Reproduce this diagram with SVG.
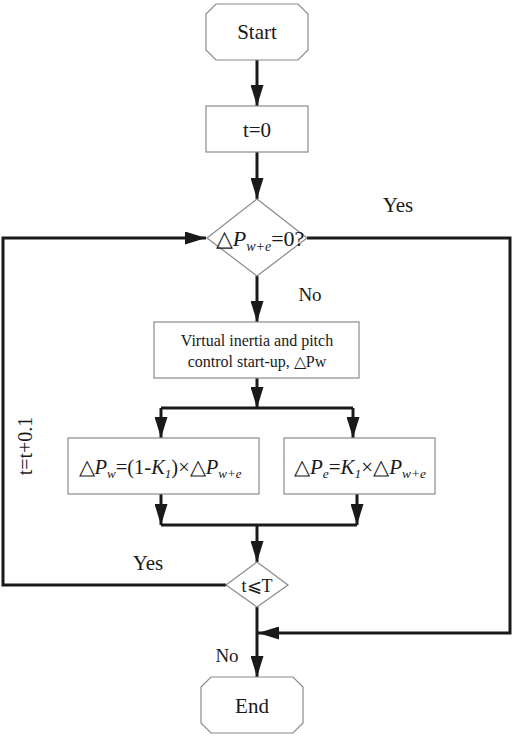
<svg xmlns="http://www.w3.org/2000/svg" width="512" height="739" viewBox="0 0 512 739">
<defs>
<marker id="ah" markerUnits="userSpaceOnUse" markerWidth="21" markerHeight="13" refX="21" refY="6.5" orient="auto">
<path d="M0,0 L21,6.5 L0,13 z" fill="#1a1a1a"/>
</marker>
</defs>
<style>
.node{fill:#fff;stroke:#8a8a8a;stroke-width:1.2}
.t{font-family:"Liberation Serif","Times New Roman",serif;fill:#1a1a1a;text-anchor:middle}
.c{fill:none;stroke:#1a1a1a;stroke-width:3}
.a{marker-end:url(#ah)}
.i{font-style:italic}
</style>
<rect width="512" height="739" fill="#fff"/>
<g id="connectors">
<path class="c a" d="M257,60 V106"/>
<path class="c a" d="M257,152 V199"/>
<path class="c a" d="M257,276 V322"/>
<path class="c a" d="M257,378 V408"/>
<path class="c" d="M161,408 H353"/>
<path class="c a" d="M161,408 V438"/>
<path class="c a" d="M353,408 V438"/>
<path class="c a" d="M161,494 V525"/>
<path class="c a" d="M357,494 V525"/>
<path class="c" d="M161,525 H357"/>
<path class="c a" d="M257,525 V562"/>
<path class="c a" d="M226,585 H3 V238 H206"/>
<path class="c a" d="M307,238 H510 V633 H258"/>
<path class="c a" d="M257,607 V677"/>
</g>
<g id="start">
<path class="node" d="M216,4 H298 L308,14 V50 L298,60 H216 L206,50 V14 Z"/>
<text class="t" x="257" y="39" font-size="21">Start</text>
</g>
<g id="t0">
<rect class="node" x="206" y="106" width="102" height="46"/>
<text class="t" x="257" y="137" font-size="21">t=0</text>
</g>
<g id="cond1">
<path class="node" d="M257,199 L307,238 L257,276 L207,238 Z"/>
<text class="t" x="260" y="246" font-size="22">△<tspan class="i">P</tspan><tspan class="i" font-size="14" dy="5">w+e</tspan><tspan dy="-5">=0?</tspan></text>
</g>
<g id="virtual">
<rect class="node" x="154" y="322" width="205" height="56"/>
<text class="t" x="257" y="346" font-size="16">Virtual inertia and pitch</text>
<text class="t" x="257" y="367" font-size="16">control start-up, △Pw</text>
</g>
<g id="pw">
<rect class="node" x="68" y="438" width="191" height="56"/>
<text class="t" x="160" y="474" font-size="20.5">△<tspan class="i">P</tspan><tspan class="i" font-size="13" dy="4">w</tspan><tspan dy="-4">=(1-</tspan><tspan class="i">K</tspan><tspan class="i" font-size="13" dy="4">1</tspan><tspan dy="-4">)×△</tspan><tspan class="i">P</tspan><tspan class="i" font-size="13" dy="4">w+e</tspan></text>
</g>
<g id="pe">
<rect class="node" x="284" y="438" width="151" height="56"/>
<text class="t" x="360" y="474" font-size="21">△<tspan class="i">P</tspan><tspan class="i" font-size="13.5" dy="4">e</tspan><tspan dy="-4">=</tspan><tspan class="i">K</tspan><tspan class="i" font-size="13.5" dy="4">1</tspan><tspan dy="-4">×△</tspan><tspan class="i">P</tspan><tspan class="i" font-size="13.5" dy="4">w+e</tspan></text>
</g>
<g id="cond2">
<path class="node" d="M257,562 L288,585 L257,607 L226,585 Z"/>
<text class="t" x="257" y="592" font-size="18">t⩽T</text>
</g>
<g id="end">
<path class="node" d="M211,677 H293 L303,687 V723 L293,733 H211 L201,723 V687 Z"/>
<text class="t" x="252" y="713" font-size="21">End</text>
</g>
<g id="labels">
<text class="t" x="398" y="212" font-size="21">Yes</text>
<text class="t" x="310" y="301" font-size="19">No</text>
<text class="t" x="148" y="570" font-size="21">Yes</text>
<text class="t" x="227" y="662" font-size="19">No</text>
<text class="t" x="0" y="0" font-size="20" transform="translate(32,446) rotate(-90)">t=t+0.1</text>
</g>
</svg>
